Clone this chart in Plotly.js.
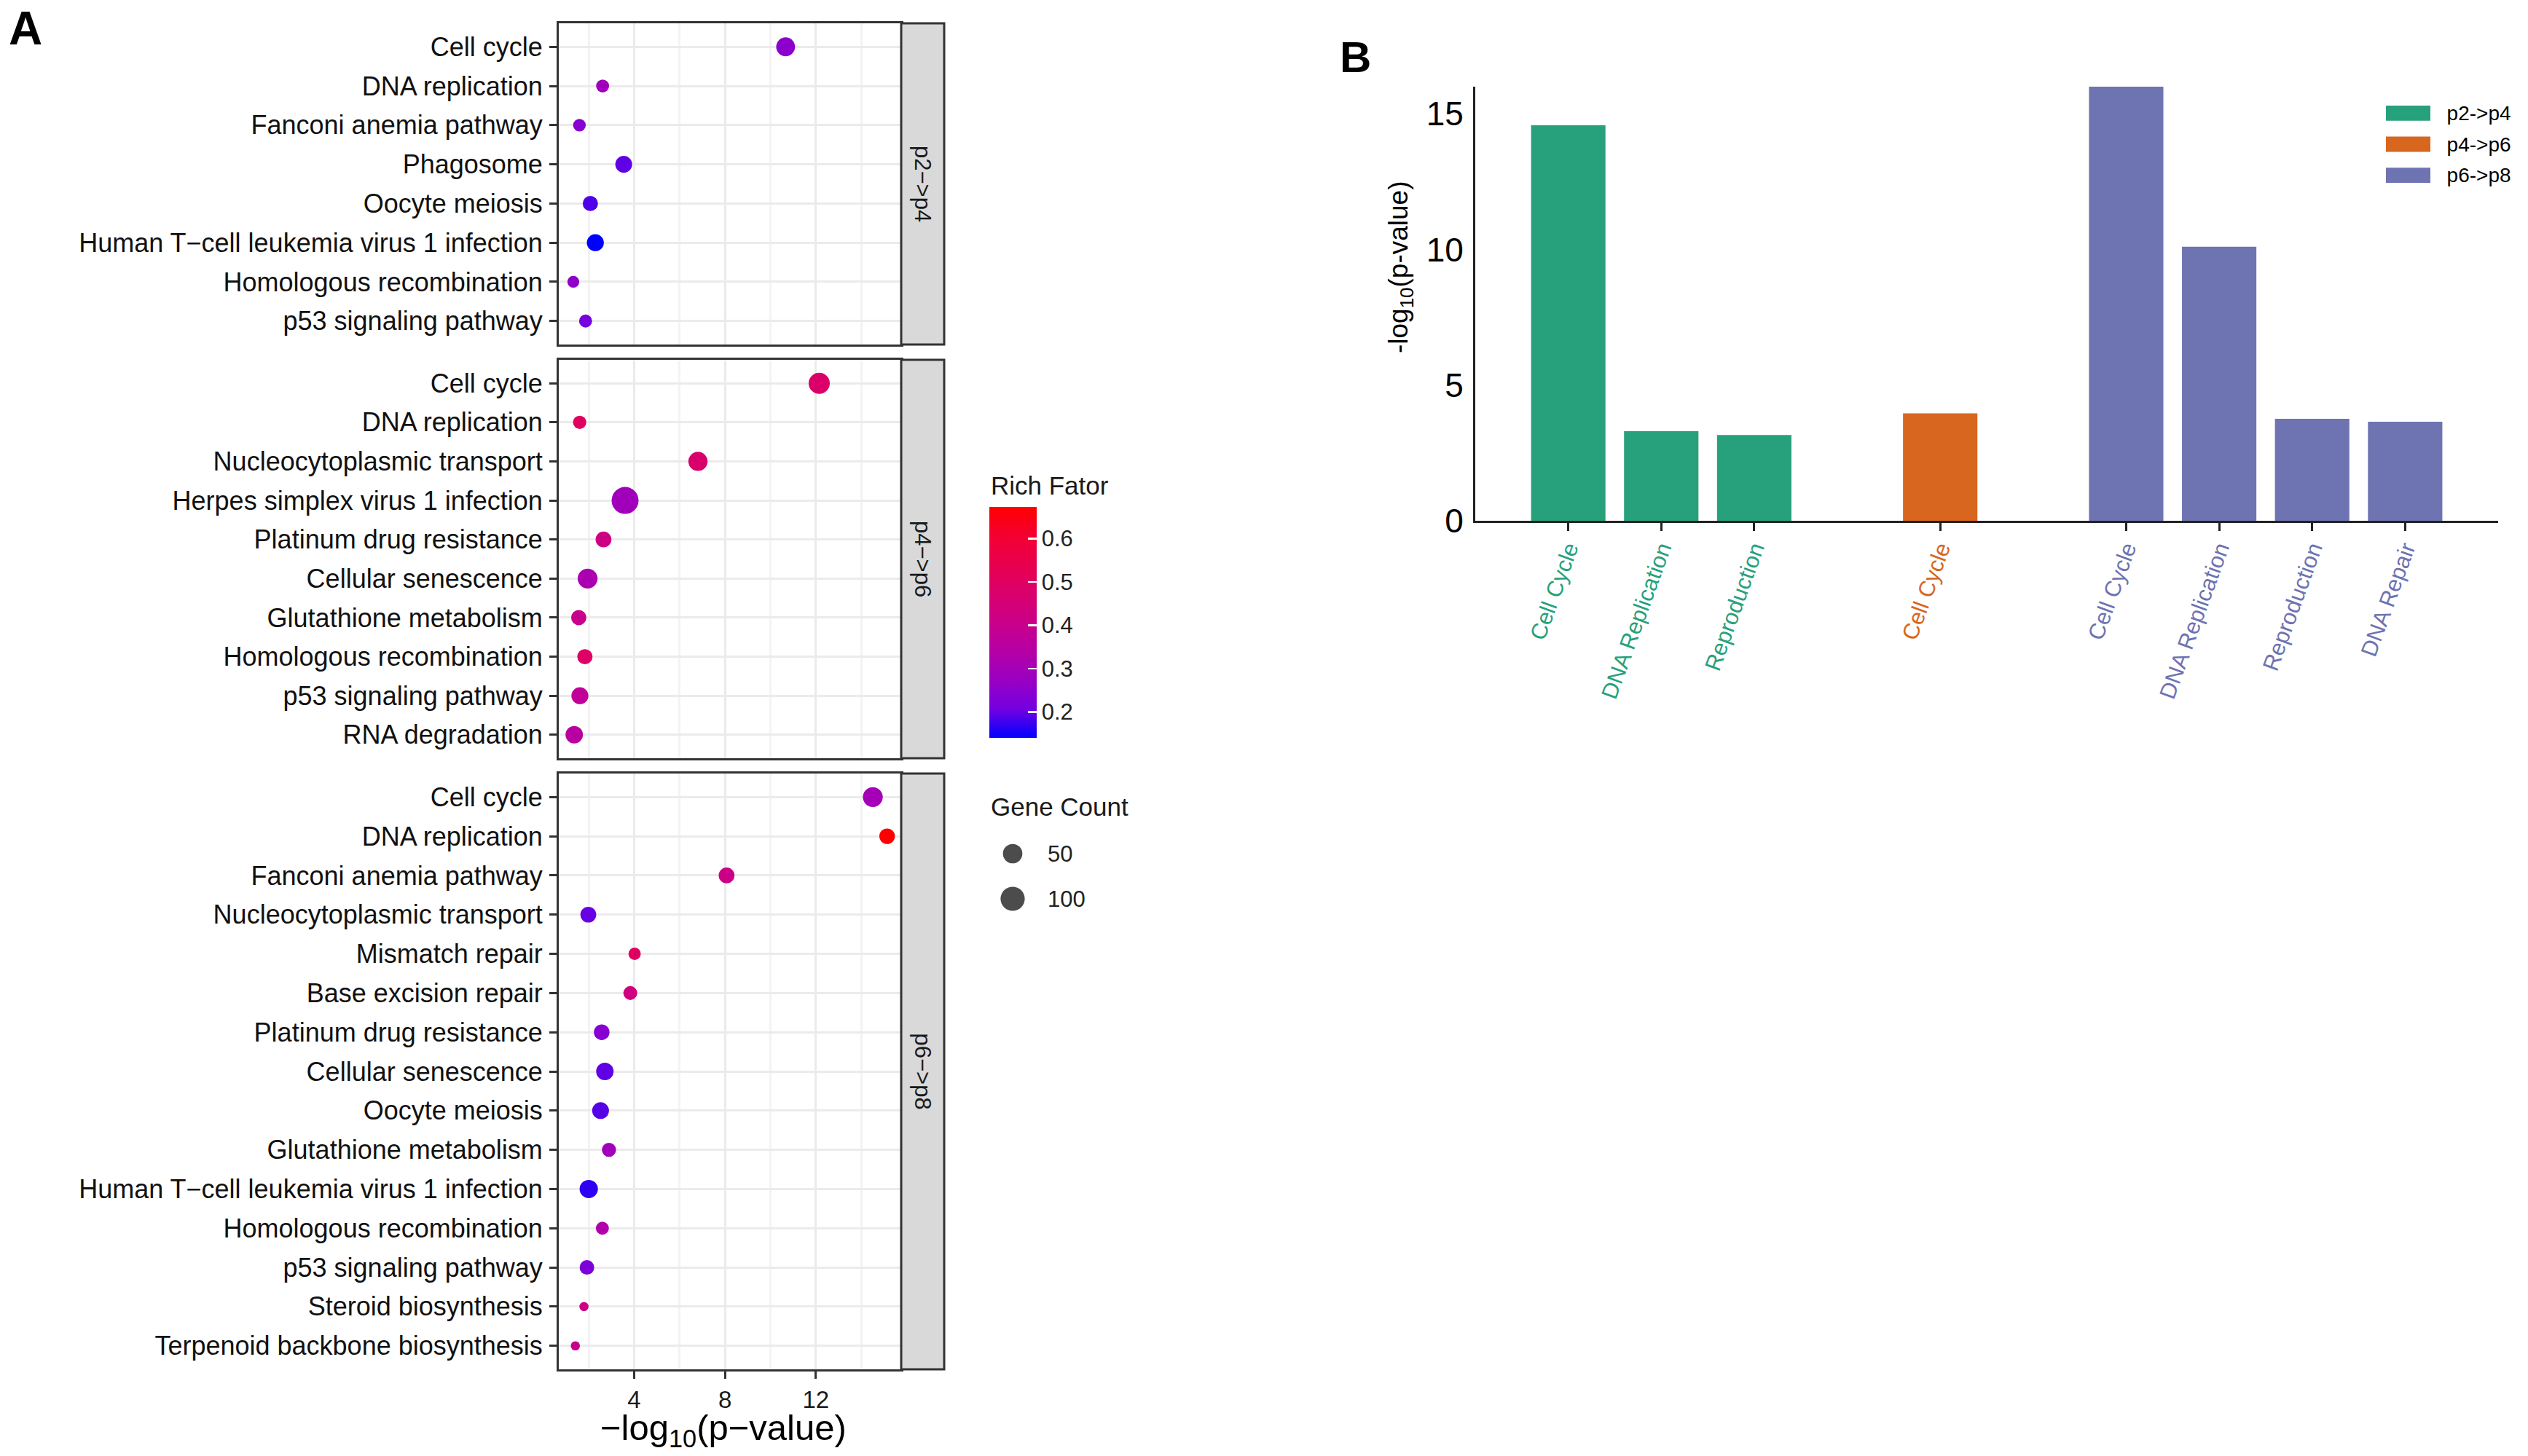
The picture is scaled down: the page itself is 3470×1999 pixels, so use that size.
<!DOCTYPE html>
<html>
<head>
<meta charset="utf-8">
<script src="https://cdn.plot.ly/plotly-3.0.1.min.js"></script>
<style>html,body{margin:0;padding:0;background:#fff;}#chart{width:3470px;height:1999px;}</style>
</head>
<body>
<div id="chart"></div>
<script>
// ---------- Panel A data (KEGG dot plot) ----------
const p24Terms = ["Cell cycle","DNA replication","Fanconi anemia pathway","Phagosome","Oocyte meiosis","Human T\u2212cell leukemia virus 1 infection","Homologous recombination","p53 signaling pathway"];
const p24LogP  = [10.67, 2.61, 1.59, 3.54, 2.07, 2.29, 1.32, 1.86];
const p24Rich  = [0.25, 0.29, 0.24, 0.195, 0.186, 0.14, 0.257, 0.212];
const p24Count = [45, 13, 12, 31, 22, 32, 10, 13];

const p46Terms = ["Cell cycle","DNA replication","Nucleocytoplasmic transport","Herpes simplex virus 1 infection","Platinum drug resistance","Cellular senescence","Glutathione metabolism","Homologous recombination","p53 signaling pathway","RNA degradation"];
const p46LogP  = [12.15, 1.60, 6.81, 3.60, 2.65, 1.95, 1.56, 1.83, 1.61, 1.36];
const p46Rich  = [0.48, 0.50, 0.473, 0.29, 0.417, 0.316, 0.40, 0.49, 0.375, 0.35];
const p46Count = [66, 14, 48, 137, 25, 54, 22, 22, 32, 35];

const p68Terms = ["Cell cycle","DNA replication","Fanconi anemia pathway","Nucleocytoplasmic transport","Mismatch repair","Base excision repair","Platinum drug resistance","Cellular senescence","Oocyte meiosis","Glutathione metabolism","Human T\u2212cell leukemia virus 1 infection","Homologous recombination","p53 signaling pathway","Steroid biosynthesis","Terpenoid backbone biosynthesis"];
const p68LogP  = [14.51, 15.14, 8.07, 1.98, 4.02, 3.83, 2.57, 2.71, 2.52, 2.89, 2.00, 2.60, 1.92, 1.79, 1.41];
const p68Rich  = [0.30, 0.67, 0.41, 0.20, 0.50, 0.43, 0.24, 0.195, 0.19, 0.29, 0.167, 0.33, 0.225, 0.41, 0.40];
const p68Count = [54, 24, 25, 25, 11, 16, 24, 35, 31, 17, 41, 13, 19, 7, 7];

const facetLabels = ["p2\u2212>p4", "p4\u2212>p6", "p6\u2212>p8"];
const xTickVals = [4, 8, 12];
const richTicks = [0.2, 0.3, 0.4, 0.5, 0.6];
const sizeLegendVals = [50, 100];

// ---------- Panel B data (bar chart) ----------
const bGroups = ["p2->p4", "p4->p6", "p6->p8"];
const bColors = ["#27A17B", "#D8661E", "#6E73B2"];
const bTerms = [
  ["Cell Cycle", "DNA Replication", "Reproduction"],
  ["Cell Cycle"],
  ["Cell Cycle", "DNA Replication", "Reproduction", "DNA Repair"]
];
const bValues = [
  [14.58, 3.30, 3.16],
  [3.96],
  [16.0, 10.1, 3.76, 3.65]
];
const bYTicks = [0, 5, 10, 15];

// ---------- helpers ----------
const W = 3470, H = 1999;
const px = v => v / W;
const py = v => 1 - v / H;
const FONT = "Liberation Sans, Arial, Helvetica, sans-serif";
function dotSize(c) { return 12.6 + 2.14 * Math.sqrt(Math.max(c - 7, 0)); }

const colorscale = [
  [0, "#0000FF"], [0.125, "#7300E0"], [0.25, "#9A00C3"], [0.375, "#B500A5"],
  [0.5, "#CA0089"], [0.625, "#DA006C"], [0.75, "#E8004F"], [0.875, "#F40031"], [1, "#FF0000"]
];

const panels = [
  {terms: p24Terms, logp: p24LogP, rich: p24Rich, count: p24Count, top: 32, bottom: 473},
  {terms: p46Terms, logp: p46LogP, rich: p46Rich, count: p46Count, top: 494, bottom: 1041},
  {terms: p68Terms, logp: p68LogP, rich: p68Rich, count: p68Count, top: 1062, bottom: 1880}
];

const traces = [];
const layout = {
  width: W, height: H,
  margin: {l: 0, r: 0, t: 0, b: 0},
  paper_bgcolor: "#ffffff", plot_bgcolor: "#ffffff",
  font: {family: FONT, color: "#1a1a1a"},
  showlegend: false,
  shapes: [], annotations: [],
  coloraxis: {
    cmin: 0.14, cmax: 0.673, colorscale: colorscale,
    colorbar: {
      x: px(1358), xanchor: "left", xpad: 0, ypad: 0,
      y: py(854.5), yanchor: "middle",
      len: 317, lenmode: "pixels", thickness: 65, thicknessmode: "pixels",
      outlinewidth: 0, tickvals: richTicks, ticktext: richTicks.map(v => v.toFixed(1)),
      ticks: "inside", ticklen: 12, tickwidth: 2.5, tickcolor: "#ffffff",
      tickfont: {size: 31, color: "#222", family: FONT}
    }
  }
};

const xDomA = [px(767), px(1237)];
panels.forEach((p, i) => {
  const k = i + 1;
  const xa = "xaxis" + (k === 1 ? "" : k), ya = "yaxis" + (k === 1 ? "" : k);
  const xr = "x" + (k === 1 ? "" : k), yr = "y" + (k === 1 ? "" : k);
  traces.push({
    type: "scatter", mode: "markers", xaxis: xr, yaxis: yr,
    x: p.logp, y: p.terms,
    marker: {color: p.rich, coloraxis: "coloraxis", size: p.count.map(dotSize), line: {width: 0}, opacity: 1},
    hoverinfo: "x+y", cliponaxis: false
  });
  const isBottom = (k === 3);
  layout[xa] = {
    domain: xDomA, anchor: yr, range: [0.68, 15.76],
    tickmode: "array", tickvals: xTickVals, ticktext: xTickVals.map(String),
    showticklabels: isBottom, ticks: isBottom ? "outside" : "", ticklen: 10, tickwidth: 3, tickcolor: "#333",
    tickfont: {size: 33, color: "#1a1a1a", family: FONT},
    showgrid: true, gridcolor: "#EBEBEB", gridwidth: 3,
    minor: {tickmode: "linear", tick0: 0, dtick: 2, showgrid: true, gridcolor: "#F3F3F3", gridwidth: 3, ticks: ""},
    zeroline: false, showline: true, mirror: true, linecolor: "#333", linewidth: 3,
    fixedrange: true
  };
  layout[ya] = {
    domain: [py(p.bottom), py(p.top)], anchor: xr,
    type: "category", categoryorder: "array", categoryarray: p.terms,
    range: [p.terms.length - 0.4, -0.6],
    ticks: "outside", ticklen: 10, tickwidth: 3, tickcolor: "#333", ticklabelstandoff: 2,
    tickfont: {size: 36, color: "#111", family: FONT},
    showgrid: true, gridcolor: "#EBEBEB", gridwidth: 3,
    zeroline: false, showline: true, mirror: true, linecolor: "#333", linewidth: 3,
    fixedrange: true
  };
  // facet strip
  layout.shapes.push({
    type: "rect", xref: "paper", yref: "paper",
    x0: px(1237), x1: px(1296), y0: py(p.bottom), y1: py(p.top),
    fillcolor: "#D9D9D9", line: {color: "#333", width: 3}, layer: "above"
  });
  layout.annotations.push({
    xref: "paper", yref: "paper", x: px(1266.5), y: (py(p.bottom) + py(p.top)) / 2,
    text: facetLabels[i], textangle: 90, showarrow: false,
    xanchor: "center", yanchor: "middle",
    font: {size: 31, color: "#1a1a1a", family: FONT}
  });
});

// x title panel A
layout.annotations.push({
  xref: "paper", yref: "paper", x: px(993), y: py(1963),
  text: "\u2212log<sub>10</sub>(p\u2212value)", showarrow: false, xanchor: "center", yanchor: "middle",
  font: {size: 49, color: "#000", family: FONT}
});

// legend titles
layout.annotations.push({
  xref: "paper", yref: "paper", x: px(1358), y: py(666), text: "Rich Fator",
  showarrow: false, xanchor: "left", yanchor: "middle", font: {size: 35, color: "#1a1a1a", family: FONT}
});
layout.annotations.push({
  xref: "paper", yref: "paper", x: px(1358), y: py(1107), text: "Gene Count",
  showarrow: false, xanchor: "left", yanchor: "middle", font: {size: 35, color: "#1a1a1a", family: FONT}
});

// size legend
traces.push({
  type: "scatter", mode: "markers", xaxis: "x4", yaxis: "y4",
  x: sizeLegendVals.map(() => 0.5), y: sizeLegendVals.map((v, i) => i),
  marker: {color: "#000", size: sizeLegendVals.map(dotSize), line: {width: 0}},
  hoverinfo: "skip", cliponaxis: false
});
layout.xaxis4 = {domain: [px(1360), px(1420)], anchor: "y4", range: [0, 1], visible: false, fixedrange: true};
layout.yaxis4 = {domain: [py(1265), py(1141)], anchor: "x4", range: [1.5, -0.5], visible: false, fixedrange: true};
sizeLegendVals.forEach((v, i) => {
  layout.annotations.push({
    xref: "paper", yref: "y4", x: px(1436), y: i, text: String(v), showarrow: false,
    xanchor: "left", yanchor: "middle", font: {size: 31, color: "#222", family: FONT}
  });
});

// panel labels
layout.annotations.push({
  xref: "paper", yref: "paper", x: px(10), y: py(39), text: "<b>A</b>", showarrow: false,
  xanchor: "left", yanchor: "middle", font: {size: 64, color: "#000", family: FONT}
});
layout.annotations.push({
  xref: "paper", yref: "paper", x: px(1837), y: py(78), text: "<b>B</b>", showarrow: false,
  xanchor: "left", yanchor: "middle", font: {size: 60, color: "#000", family: FONT}
});

// ---------- Panel B ----------
const tickPos = [], tickTxt = [];
let pos = 0;
bGroups.forEach((g, gi) => {
  const xs = [];
  bTerms[gi].forEach((t, ti) => {
    xs.push(pos);
    tickPos.push(pos);
    tickTxt.push('<span style="color:' + bColors[gi] + '">' + t + '</span>');
    pos += 1;
  });
  pos += 1; // gap between groups
  traces.push({
    type: "bar", xaxis: "x5", yaxis: "y5", name: g,
    x: xs, y: bValues[gi], width: 0.8,
    marker: {color: bColors[gi], line: {width: 0}},
    hoverinfo: "y"
  });
});
layout.xaxis5 = {
  domain: [px(2025), px(3429)], anchor: "y5", range: [-1, 10],
  tickmode: "array", tickvals: tickPos, ticktext: tickTxt, tickangle: -70,
  ticks: "outside", ticklen: 11, tickwidth: 3, tickcolor: "#222", ticklabelstandoff: -6,
  tickfont: {size: 31, family: FONT},
  showline: true, linecolor: "#222", linewidth: 3, showgrid: false, zeroline: false, fixedrange: true
};
layout.yaxis5 = {
  domain: [py(715), py(119)], anchor: "x5", range: [0, 16],
  tickmode: "array", tickvals: bYTicks, ticktext: bYTicks.map(String),
  ticks: "", ticklabelstandoff: 4,
  tickfont: {size: 46, color: "#000", family: FONT},
  showline: true, linecolor: "#222", linewidth: 3, showgrid: false, zeroline: false, fixedrange: true
};
layout.annotations.push({
  xref: "paper", yref: "paper", x: px(1922), y: py(366),
  text: "-log<sub>10</sub>(p-value)", textangle: -90, showarrow: false,
  xanchor: "center", yanchor: "middle", font: {size: 37, color: "#000", family: FONT}
});

// legend for panel B (built from the group arrays)
traces.push({
  type: "bar", orientation: "h", xaxis: "x6", yaxis: "y6",
  x: bGroups.map(() => 1), y: bGroups.map((g, i) => i), width: 0.49,
  marker: {color: bColors, line: {width: 0}}, hoverinfo: "skip"
});
layout.xaxis6 = {domain: [px(3275), px(3336)], anchor: "y6", range: [0, 1], visible: false, fixedrange: true};
layout.yaxis6 = {
  domain: [py(262), py(134)], anchor: "x6", side: "right", range: [2.5, -0.5],
  tickmode: "array", tickvals: bGroups.map((g, i) => i), ticktext: bGroups,
  ticks: "outside", ticklen: 16, tickcolor: "rgba(0,0,0,0)",
  tickfont: {size: 28, color: "#000", family: FONT},
  showline: false, showgrid: false, zeroline: false, fixedrange: true
};

Plotly.newPlot("chart", traces, layout, {staticPlot: true, displayModeBar: false});
</script>
</body>
</html>
